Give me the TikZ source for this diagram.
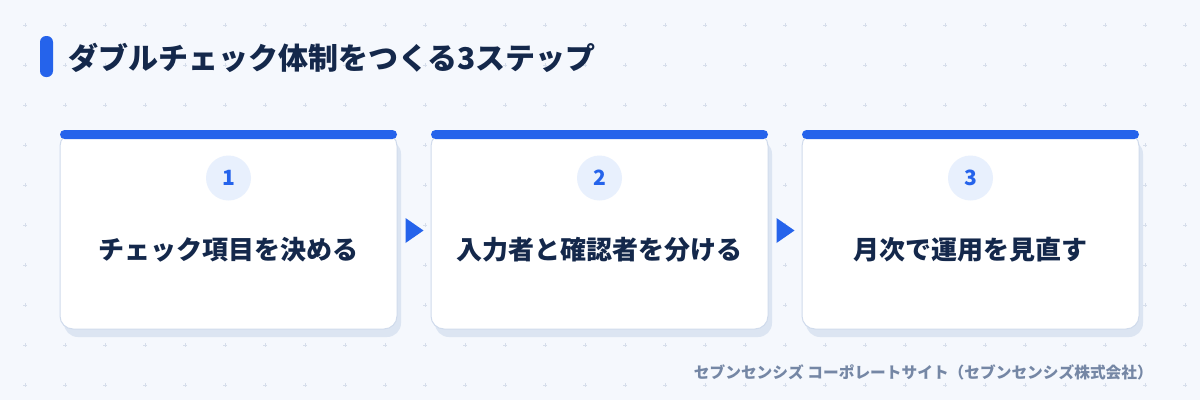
\documentclass[tikz,border=0pt]{standalone}
\usepackage{fontspec}
\setmainfont{Noto Sans CJK JP}
\usetikzlibrary{calc}
\definecolor{bgc}{HTML}{F5F8FD}
\definecolor{dotc}{HTML}{D6DEEB}
\definecolor{accent}{HTML}{2563EB}
\definecolor{navy}{HTML}{14284B}
\definecolor{cardborder}{HTML}{D0DBEC}
\definecolor{shadowc}{HTML}{DCE5F2}
\definecolor{circfill}{HTML}{E8F0FD}
\definecolor{footc}{HTML}{7587A5}
\tikzset{
  cardbox/.style={draw=cardborder, line width=1pt, fill=white, rounded corners=13pt,
    minimum width=337pt, minimum height=196pt, inner sep=0pt},
  numbadge/.style={circle, fill=circfill, minimum size=45pt, inner sep=0pt, text=accent,
    font=\fontsize{21}{24}\selectfont\bfseries},
  steptext/.style={text=navy, font=\fontsize{26}{30}\selectfont\bfseries, inner sep=0pt},
  titletext/.style={text=navy, font=\fontsize{30}{34}\selectfont\bfseries, inner sep=0pt, anchor=west},
  foottext/.style={text=footc, font=\fontsize{15.7}{18}\selectfont\bfseries, inner sep=0pt, anchor=east},
  arrowtri/.style={fill=accent},
}
\begin{document}
\begin{tikzpicture}[x=1pt,y=-1pt]
\useasboundingbox (0,0) rectangle (1200,400);
\fill[bgc] (0,0) rectangle (1200,400);
\foreach \i in {0,...,29}{
  \foreach \j in {0,...,9}{
    \draw[dotc, line width=1pt] ({25+40*\i-2},{25+40*\j}) -- ++(4,0)
      ({25+40*\i},{25+40*\j-2}) -- ++(0,4);
  }
}
% title
\fill[accent, rounded corners=6pt] (40,36) rectangle (53,77);
\node[titletext] (title) at (68,58) {ダブルチェック体制をつくる3ステップ};
% cards
\foreach \k/\num/\txt in {0/1/チェック項目を決める, 1/2/入力者と確認者を分ける, 2/3/月次で運用を見直す}{
  \pgfmathsetmacro{\xa}{60+371*\k}
  \pgfmathsetmacro{\xc}{\xa+168.5}
  \fill[shadowc, rounded corners=14pt] ({\xa+4},140) rectangle ({\xa+341},337);
  \node[cardbox] (card\num) at (\xc,231) {};
  \fill[accent, rounded corners=4.5pt] (\xa,130) rectangle ({\xa+337},139);
  \node[numbadge] (badge\num) at (\xc,178) {\num};
  \node[steptext] (label\num) at (\xc,250) {\txt};
}
% arrows
\fill[arrowtri] ($(card1.east)+(8,-13)$) -- ($(card1.east)+(8,12)$) -- ($(card1.east)+(26,-0.5)$) -- cycle;
\fill[arrowtri] ($(card2.east)+(8,-13)$) -- ($(card2.east)+(8,12)$) -- ($(card2.east)+(26,-0.5)$) -- cycle;
% footer
\node[foottext] (foot) at (1153,372) {セブンセンシズ コーポレートサイト（セブンセンシズ株式会社）};
\end{tikzpicture}
\end{document}
